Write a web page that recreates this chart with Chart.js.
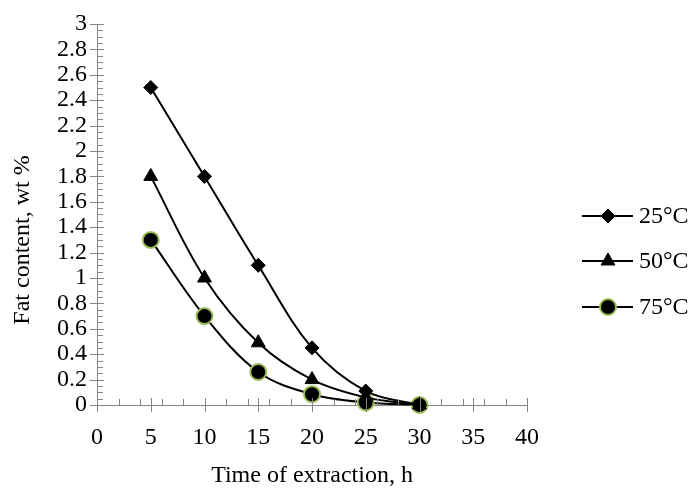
<!DOCTYPE html>
<html>
<head>
<meta charset="utf-8">
<script src="https://cdn.jsdelivr.net/npm/chart.js@4/dist/chart.umd.min.js"></script>
<style>
  html, body { margin: 0; padding: 0; background: #fff; }
  #wrap { width: 698px; height: 489px; }
</style>
</head>
<body>
<div id="wrap"><canvas id="fatChart" width="698" height="489"></canvas></div>
<script>
// Data
const times = [5, 10, 15, 20, 25, 30];
const fat25 = [2.5, 1.8, 1.1, 0.45, 0.11, 0.0];
const fat50 = [1.8, 1.0, 0.49, 0.2, 0.06, 0.0];
const fat75 = [1.3, 0.7, 0.26, 0.085, 0.02, 0.0];
const seriesLabels = ['25°C', '50°C', '75°C'];

// Axis ticks
const xTicks = [0, 5, 10, 15, 20, 25, 30, 35, 40];
const yTicks = [0, 0.2, 0.4, 0.6, 0.8, 1, 1.2, 1.4, 1.6, 1.8, 2, 2.2, 2.4, 2.6, 2.8, 3];

const AXIS_GRAY = '#868686';
const FONT = '"Liberation Serif", "Times New Roman", serif';

Chart.defaults.font.family = FONT;
Chart.defaults.color = '#000';

function toPoints(ys) {
    return times.map((t, i) => ({ x: t, y: ys[i] }));
}

// Excel-like tick marks: major ticks cross the axis, minor ticks inside
const axisTicks = {
    id: 'axisTicks',
    afterDraw(chart) {
        const ctx = chart.ctx;
        const xs = chart.scales.x;
        const ys = chart.scales.y;
        const x0 = xs.left;
        const y0 = ys.bottom;
        ctx.save();
        ctx.strokeStyle = AXIS_GRAY;
        ctx.lineWidth = 1;
        ctx.beginPath();
        // y minor (every 0.05)
        for (let v = 0.05; v < 3; v += 0.05) {
            const py = Math.round(ys.getPixelForValue(v)) + 0.5;
            ctx.moveTo(x0, py);
            ctx.lineTo(x0 + 6, py);
        }
        // y major
        yTicks.forEach(v => {
            const py = Math.round(ys.getPixelForValue(v)) + 0.5;
            ctx.moveTo(x0 - 7, py);
            ctx.lineTo(x0 + 7, py);
        });
        // x minor (every 2)
        for (let v = 2; v < 40; v += 2) {
            const px = Math.round(xs.getPixelForValue(v)) + 0.5;
            ctx.moveTo(px, y0);
            ctx.lineTo(px, y0 - 6);
        }
        // x major
        xTicks.forEach(v => {
            const px = Math.round(xs.getPixelForValue(v)) + 0.5;
            ctx.moveTo(px, y0 - 7);
            ctx.lineTo(px, y0 + 7);
        });
        ctx.stroke();
        ctx.restore();
    }
};

// Axis titles placed like the original
const axisTitles = {
    id: 'axisTitles',
    afterDraw(chart) {
        const ctx = chart.ctx;
        const xs = chart.scales.x;
        ctx.save();
        ctx.fillStyle = '#000';
        ctx.font = '24px ' + FONT;
        ctx.textAlign = 'center';
        ctx.textBaseline = 'middle';
        ctx.fillText('Time of extraction, h', (xs.left + xs.right) / 2, 476);
        ctx.translate(23, 240);
        ctx.rotate(-Math.PI / 2);
        ctx.fillText('Fat content, wt %', 0, 0);
        ctx.restore();
    }
};

// Legend with line + marker, like the spreadsheet one
const lineLegend = {
    id: 'lineLegend',
    afterDraw(chart) {
        const ctx = chart.ctx;
        const rows = [216, 261, 307];
        ctx.save();
        chart.data.datasets.forEach((ds, i) => {
            const y = rows[i];
            ctx.strokeStyle = ds.borderColor;
            ctx.lineWidth = ds.borderWidth;
            ctx.beginPath();
            ctx.moveTo(582, y);
            ctx.lineTo(633, y);
            ctx.stroke();
            ctx.fillStyle = ds.pointBackgroundColor;
            ctx.strokeStyle = ds.pointBorderColor;
            ctx.lineWidth = ds.pointBorderWidth;
            Chart.helpers.drawPoint(ctx, {
                pointStyle: ds.pointStyle,
                radius: ds.pointRadius,
                rotation: 0,
                borderWidth: ds.pointBorderWidth
            }, 608, y);
            ctx.fillStyle = '#000';
            ctx.font = '24px ' + FONT;
            ctx.textAlign = 'left';
            ctx.textBaseline = 'middle';
            ctx.fillText(ds.label, 639, y + 1);
        });
        ctx.restore();
    }
};

function makeDataset(label, ys, style, radius, fill, border, bw) {
    return {
        label: label,
        data: toPoints(ys),
        showLine: true,
        borderColor: '#000',
        borderWidth: 2,
        tension: 0.35,
        pointStyle: style,
        pointRadius: radius,
        pointHoverRadius: radius,
        pointBackgroundColor: fill,
        pointBorderColor: border,
        pointBorderWidth: bw,
        clip: false
    };
}

document.addEventListener('DOMContentLoaded', function() {
    const ctx = document.getElementById('fatChart').getContext('2d');
    new Chart(ctx, {
        type: 'scatter',
        data: {
            datasets: [
                makeDataset(seriesLabels[0], fat25, 'rectRot', 7, '#000', '#000', 1),
                makeDataset(seriesLabels[1], fat50, 'triangle', 8, '#000', '#000', 1),
                makeDataset(seriesLabels[2], fat75, 'circle', 8, '#000', '#9BBB59', 2)
            ]
        },
        options: {
            responsive: false,
            animation: false,
            layout: { padding: { left: 0, right: 171, top: 24, bottom: 0 } },
            plugins: {
                legend: { display: false },
                tooltip: { enabled: false }
            },
            scales: {
                x: {
                    type: 'linear',
                    min: 0,
                    max: 40,
                    afterBuildTicks: s => { s.ticks = xTicks.map(v => ({ value: v })); },
                    afterFit: s => { s.height = 84; },
                    grid: { display: false, drawTicks: false },
                    border: { color: AXIS_GRAY, width: 1 },
                    ticks: { font: { size: 24 }, color: '#000', padding: 18, maxRotation: 0, autoSkip: false }
                },
                y: {
                    min: 0,
                    max: 3,
                    afterBuildTicks: s => { s.ticks = yTicks.map(v => ({ value: v })); },
                    afterFit: s => { s.width = 97; },
                    grid: { display: false, drawTicks: false },
                    border: { color: AXIS_GRAY, width: 1 },
                    ticks: {
                        font: { size: 24, lineHeight: 1 },
                        color: '#000',
                        padding: 10,
                        autoSkip: false,
                        callback: v => String(Math.round(v * 10) / 10)
                    }
                }
            }
        },
        plugins: [axisTicks, axisTitles, lineLegend]
    });
});
</script>
</body>
</html>
